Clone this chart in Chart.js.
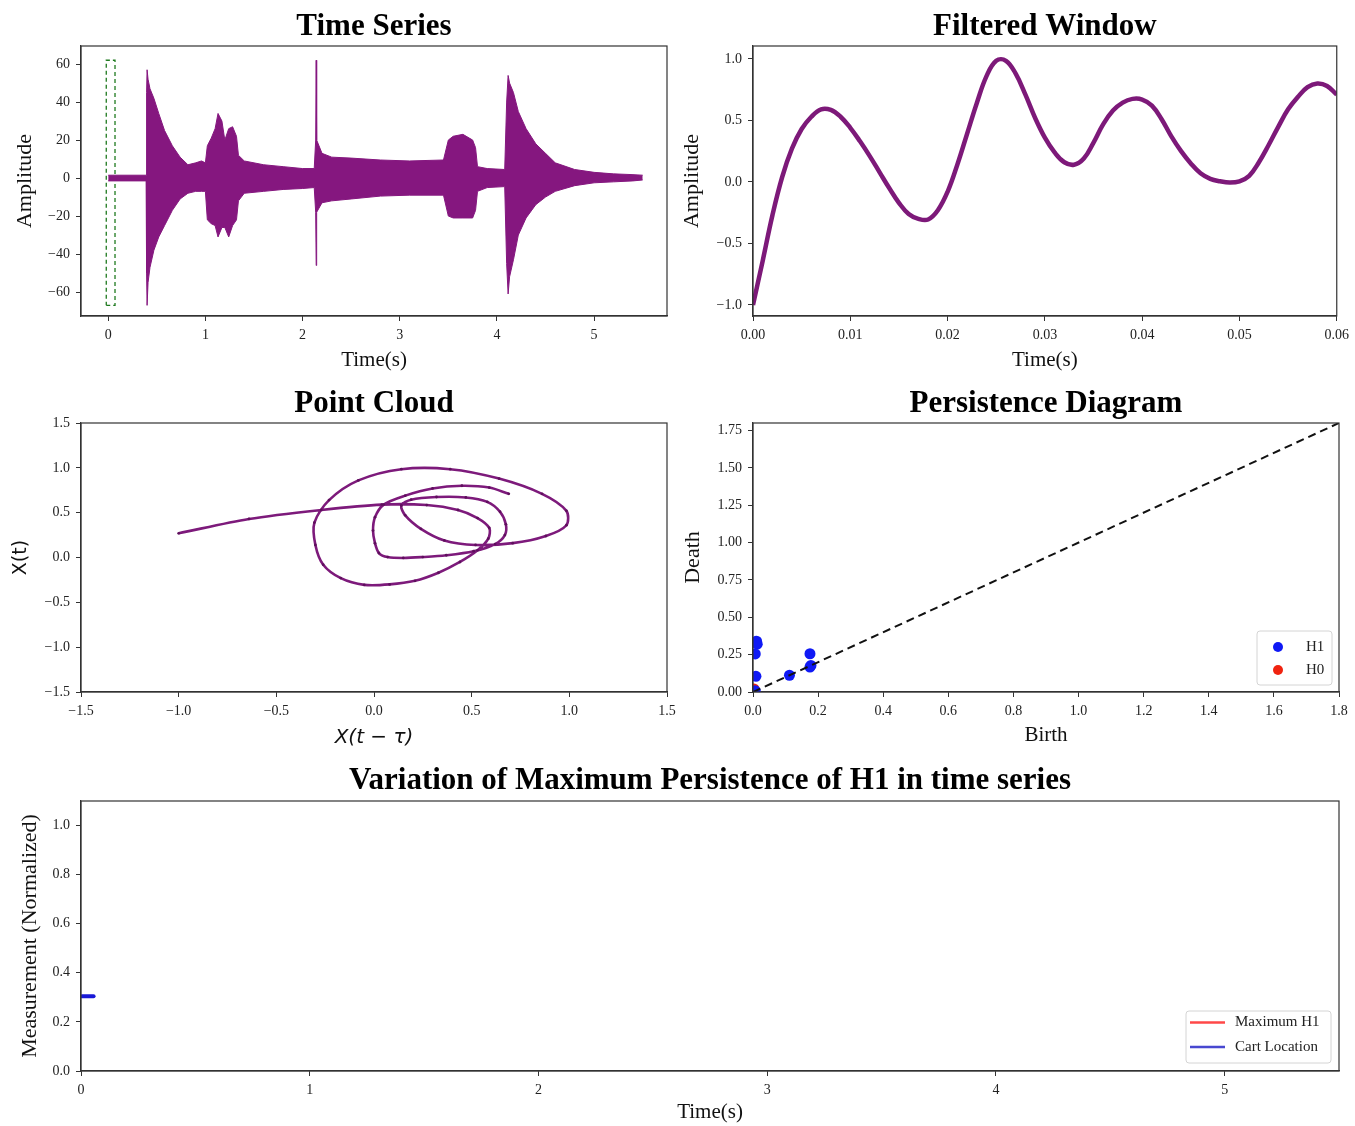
<!DOCTYPE html>
<html>
<head>
<meta charset="utf-8">
<title>Maximum persistence of H1</title>
<script src="https://cdn.jsdelivr.net/npm/chart.js@4.4.1/dist/chart.umd.min.js"></script>
<style>
body { margin: 0; background: #fff; }
#page { position: relative; width: 1355px; height: 1126px; overflow: hidden; background: #fff; }
canvas { position: absolute; }
</style>
</head>
<body>
<div id="page">
	<canvas id="c_series" width="680" height="380" style="left:0px;top:0px"></canvas>
	<canvas id="c_window" width="679" height="380" style="left:676px;top:0px"></canvas>
	<canvas id="c_cloud" width="684" height="382" style="left:0px;top:378px"></canvas>
	<canvas id="c_pd" width="679" height="382" style="left:676px;top:378px"></canvas>
	<canvas id="c_var" width="1355" height="370" style="left:0px;top:756px"></canvas>
</div>
<script>
// time series envelope, seconds / amplitude
var tsTime  = [0.00, 0.39, 0.395, 0.40, 0.41, 0.43, 0.47, 0.52, 0.58, 0.66, 0.74, 0.82, 0.90, 0.96, 1.00,
	1.02, 1.06, 1.10, 1.13, 1.17, 1.20, 1.24, 1.28, 1.32, 1.34, 1.40, 1.60, 1.80, 2.00, 2.12,
	2.135, 2.14, 2.145, 2.20, 2.30, 2.50, 2.80, 3.10, 3.45, 3.50, 3.55, 3.65, 3.75, 3.78, 3.80,
	3.90, 4.08, 4.10, 4.115, 4.13, 4.17, 4.22, 4.30, 4.40, 4.50, 4.60, 4.80, 5.00, 5.20, 5.40, 5.50];
var tsUpper = [1.5, 1.5, 45, 57, 52, 47, 42, 34, 25, 17, 11, 7, 8, 9, 8,
	17, 21, 26, 34, 30, 20, 26, 27, 22, 12, 9, 7, 6, 5, 5,
	20, 62, 20, 13, 11, 10.5, 9.5, 9, 9.5, 20, 22, 23, 20, 16, 6,
	5, 4.5, 40, 54, 50, 45, 35, 26, 18, 13, 8, 4.5, 3, 2.2, 1.8, 1.5];
var tsLower = [-1.5, -1.5, -50, -67, -55, -47, -38, -31, -25, -17, -11, -8, -7, -7, -7,
	-22, -24, -25, -31, -26, -26, -31, -25, -22, -12, -8, -7, -6, -5.5, -5,
	-18, -46, -18, -13, -12, -11, -9.5, -9, -9, -20, -21, -21, -21, -17, -7,
	-5, -4.5, -45, -61, -52, -43, -30, -21, -14, -10, -7, -4, -2.5, -2, -1.5, -1];
// analysed window marked on the time series
var winX = [-0.02, 0.07, 0.07, -0.02, -0.02];
var winY = [-67, -67, 62, 62, -67];

// filtered window, one sample per millisecond
var fwTimeMs = [0, 1, 2, 3, 4, 5, 6, 7, 8, 9, 10, 11, 12, 13, 14, 15, 16, 17, 18, 19, 20,
	21, 22, 23, 24, 25, 26, 27, 28, 29, 30, 31, 32, 33, 34, 35, 36, 37, 38, 39, 40,
	41, 42, 43, 44, 45, 46, 47, 48, 49, 50, 51, 52, 53, 54, 55, 56, 57, 58, 59, 60];
var fwAmp = [-1.00, -0.64, -0.27, 0.04, 0.27, 0.43, 0.53, 0.59, 0.585, 0.53, 0.44,
	0.33, 0.21, 0.08, -0.05, -0.17, -0.26, -0.30, -0.305, -0.23, -0.08,
	0.14, 0.39, 0.64, 0.86, 0.985, 0.985, 0.88, 0.71, 0.52, 0.36,
	0.24, 0.16, 0.14, 0.19, 0.32, 0.47, 0.58, 0.645, 0.675, 0.67,
	0.62, 0.51, 0.37, 0.25, 0.15, 0.07, 0.025, 0.005, -0.005, 0.005,
	0.05, 0.16, 0.30, 0.45, 0.59, 0.69, 0.77, 0.80, 0.78, 0.71];
// delay (in samples) of the embedding X(t - tau) -> X(t)
var cloudLag = 4;

// persistence diagram
var h1Birth = [0.011, 0.013, 0.007, 0.009, 0.112, 0.175, 0.175, 0.178, 0.007];
var h1Death = [0.340, 0.320, 0.255, 0.105, 0.112, 0.256, 0.167, 0.178, 0.008];
var h0Birth = [0.003];
var h0Death = [0.020];
var diagX = [0, 1.8];
var diagY = [0, 1.8];

// bottom panel
var maxH1Time = [0.03];
var maxH1Value = [0.305];
var cartTime = [0.005, 0.055];
var cartValue = [0.305, 0.305];

var SERIF = "'Liberation Serif', 'Times New Roman', serif";
Chart.defaults.font.family = SERIF;
Chart.defaults.color = '#222';

function pairs(xs, ys){
	var out = [];
	for(var i = 0; i < xs.length; i++){
		out.push({x: xs[i], y: ys[i]});
	}
	return out;
}

function fmt(digits){
	return function(v){
		if(Math.abs(v) < 1e-9){
			v = 0;
		}
		return v.toFixed(digits).replace('-', '\u2212');
	};
}

function axisX(min, max, step, digits, title, titleFont, titlePad, height){
	return {
		type: 'linear', position: 'bottom', min: min, max: max,
		ticks: {stepSize: step, includeBounds: false, autoSkip: false, maxRotation: 0, padding: 6,
			color: '#222', font: {size: 14}, callback: fmt(digits)},
		grid: {drawOnChartArea: false, drawTicks: true, tickLength: 5, color: '#333'},
		border: {display: true, color: '#333', width: 1.2},
		title: {display: true, text: title, color: '#111', font: titleFont, padding: {top: 0, bottom: titlePad}},
		afterFit: function(s){ s.height = height; }
	};
}

function axisY(min, max, step, digits, title, titleFont, titlePad, width){
	return {
		type: 'linear', position: 'left', min: min, max: max,
		ticks: {stepSize: step, includeBounds: false, autoSkip: false, padding: 6,
			color: '#222', font: {size: 14}, callback: fmt(digits)},
		grid: {drawOnChartArea: false, drawTicks: true, tickLength: 5, color: '#333'},
		border: {display: true, color: '#333', width: 1.2},
		title: {display: true, text: title, color: '#111', font: titleFont, padding: {top: titlePad, bottom: 0}},
		afterFit: function(s){ s.width = width; }
	};
}

// title centred over the plot area only
function titleOpts(text, padTop, padBottom){
	return {display: true, text: text, color: '#000', fullSize: false,
		font: {size: 31, weight: 'bold', family: SERIF, lineHeight: 1.2},
		padding: {top: padTop, bottom: padBottom}};
}

// box round the plot area, like matplotlib spines
var frame = {
	id: 'frame',
	afterDraw: function(chart){
		var a = chart.chartArea;
		var ctx = chart.ctx;
		ctx.save();
		ctx.strokeStyle = '#333';
		ctx.lineWidth = 1.2;
		ctx.strokeRect(a.left, a.top, a.right - a.left, a.bottom - a.top);
		ctx.restore();
	}
};

// legend box in the lower right corner of the plot area
var boxLegend = {
	id: 'boxLegend',
	afterDraw: function(chart, args, opts){
		if(!opts || !opts.rows){
			return;
		}
		var a = chart.chartArea;
		var ctx = chart.ctx;
		var x0 = a.right - opts.inset - opts.width;
		var y0 = a.bottom - opts.inset - opts.height;
		ctx.save();
		ctx.beginPath();
		ctx.roundRect(x0, y0, opts.width, opts.height, 3);
		ctx.fillStyle = 'rgba(255,255,255,0.85)';
		ctx.fill();
		ctx.strokeStyle = '#d4d4d4';
		ctx.lineWidth = 1;
		ctx.stroke();
		ctx.font = '15px ' + SERIF;
		ctx.textBaseline = 'middle';
		for(var k = 0; k < opts.rows.length; k++){
			var ds = chart.data.datasets[opts.rows[k]];
			var y = y0 + opts.rowY[k];
			if(opts.kind == 'dot'){
				ctx.beginPath();
				ctx.arc(x0 + opts.markX, y, 5, 0, Math.PI * 2);
				ctx.fillStyle = ds.backgroundColor;
				ctx.fill();
			}
			else{
				ctx.beginPath();
				ctx.moveTo(x0 + 4, y);
				ctx.lineTo(x0 + 39, y);
				ctx.strokeStyle = opts.colors[k];
				ctx.lineWidth = 2.5;
				ctx.stroke();
			}
			ctx.fillStyle = '#222';
			ctx.fillText(ds.label, x0 + opts.textX, y);
		}
		ctx.restore();
	}
};

var common = {responsive: false, animation: false, devicePixelRatio: 1, events: []};

function baseOptions(title, scales, extra){
	var o = Object.assign({}, common);
	o.layout = {padding: {left: 0, top: 0, right: extra.padRight, bottom: 0}};
	o.scales = scales;
	o.plugins = {legend: {display: false}, tooltip: {enabled: false}, title: title};
	if(extra.legend){
		o.plugins.boxLegend = extra.legend;
	}
	return o;
}

var PURPLE = '#85177f';
var AXIS22 = {size: 22, family: SERIF};
var AXIS21 = {size: 21, family: SERIF};

// ---- Time Series
new Chart(document.getElementById('c_series'), {
	type: 'line',
	data: {
		datasets: [
			{label: 'upper', data: pairs(tsTime, tsUpper), borderColor: PURPLE, backgroundColor: PURPLE,
				borderWidth: 1, pointRadius: 0, tension: 0, fill: '+1'},
			{label: 'lower', data: pairs(tsTime, tsLower), borderColor: PURPLE, backgroundColor: PURPLE,
				borderWidth: 1, pointRadius: 0, tension: 0, fill: false},
			{label: 'window', data: pairs(winX, winY), borderColor: '#1f7a1f', borderDash: [4, 3],
				borderWidth: 1.3, pointRadius: 0, tension: 0, fill: false}
		]
	},
	options: baseOptions(titleOpts('Time Series', 8.4, 0.4), {
		x: axisX(-0.28, 5.75, 1, 0, 'Time(s)', AXIS21, 7.4, 64),
		y: axisY(-72.6, 69.5, 20, 0, 'Amplitude', AXIS22, 11.8, 81)
	}, {padRight: 13}),
	plugins: [frame]
});

// ---- Filtered Window
var fwPoints = [];
for(var i = 0; i < fwTimeMs.length; i++){
	fwPoints.push({x: fwTimeMs[i] / 1000, y: fwAmp[i]});
}
new Chart(document.getElementById('c_window'), {
	type: 'line',
	data: {
		datasets: [
			{label: 'filtered', data: fwPoints, borderColor: '#7d1979', borderWidth: 4.5,
				pointRadius: 0, tension: 0.4, fill: false}
		]
	},
	options: baseOptions(titleOpts('Filtered Window', 8.4, 0.4), {
		x: axisX(0, 0.06, 0.01, 2, 'Time(s)', AXIS21, 7.4, 64),
		y: axisY(-1.09, 1.105, 0.5, 1, 'Amplitude', AXIS22, 2.8, 77)
	}, {padRight: 16}),
	plugins: [frame]
});

// ---- Point Cloud (delay embedding of the filtered window)
var cloudPoints = [];
for(var j = cloudLag; j < fwAmp.length; j++){
	cloudPoints.push({x: fwAmp[j - cloudLag], y: fwAmp[j]});
}
new Chart(document.getElementById('c_cloud'), {
	type: 'line',
	data: {
		datasets: [
			{label: 'cloud', data: cloudPoints, borderColor: '#7d1a7b', backgroundColor: '#5e0f5c',
				borderWidth: 2.6, pointRadius: 1.4, pointBorderWidth: 0, tension: 0.3, fill: false}
		]
	},
	options: baseOptions(titleOpts('Point Cloud', 7.4, 0.4), {
		x: axisX(-1.5, 1.5, 0.5, 1, 'X(t \u2212 \u03C4)', {size: 20, family: 'DejaVu Sans', style: 'italic'}, 10, 68),
		y: axisY(-1.5, 1.5, 0.5, 1, 'X(t)', {size: 19, family: 'DejaVu Sans'}, 9.6, 81)
	}, {padRight: 17}),
	plugins: [frame]
});

// ---- Persistence Diagram
new Chart(document.getElementById('c_pd'), {
	type: 'scatter',
	data: {
		datasets: [
			{label: 'diag', data: pairs(diagX, diagY), showLine: true, borderColor: '#111', borderWidth: 2,
				borderDash: [8, 5], pointRadius: 0, fill: false},
			{label: 'H1', data: pairs(h1Birth, h1Death), backgroundColor: 'rgb(15,25,245)', borderWidth: 0,
				pointRadius: 5.5},
			{label: 'H0', data: pairs(h0Birth, h0Death), backgroundColor: 'rgb(240,35,15)', borderWidth: 0,
				pointRadius: 5.5}
		]
	},
	options: baseOptions(titleOpts('Persistence Diagram', 7.4, 0.4), {
		x: axisX(0, 1.8, 0.2, 1, 'Birth', AXIS21, 12.4, 68),
		y: axisY(0, 1.8, 0.25, 2, 'Death', AXIS22, 3.8, 77)
	}, {padRight: 16, legend: {rows: [1, 2], kind: 'dot', width: 75, height: 54, inset: 7,
		rowY: [16, 39], markX: 21, textX: 49}}),
	plugins: [frame, boxLegend]
});

// ---- Variation of maximum persistence
new Chart(document.getElementById('c_var'), {
	type: 'line',
	data: {
		datasets: [
			{label: 'Maximum H1', data: pairs(maxH1Time, maxH1Value), borderColor: 'rgba(255,0,0,0.7)',
				borderWidth: 2.5, pointRadius: 0, fill: false},
			{label: 'Cart Location', data: pairs(cartTime, cartValue), borderColor: 'rgb(25,25,215)',
				borderWidth: 4, borderCapStyle: 'round', pointRadius: 0, fill: false}
		]
	},
	options: baseOptions(titleOpts('Variation of Maximum Persistence of H1 in time series', 6.4, 1.4), {
		x: axisX(0, 5.5, 1, 0, 'Time(s)', AXIS21, 1.4, 55),
		y: axisY(0, 1.1, 0.2, 1, 'Measurement (Normalized)', AXIS22, 16.8, 81)
	}, {padRight: 16, legend: {rows: [0, 1], kind: 'line', width: 145, height: 52, inset: 8,
		rowY: [11.5, 36], textX: 49, colors: ['rgba(255,40,40,0.85)', 'rgba(40,40,200,0.85)']}}),
	plugins: [frame, boxLegend]
});
</script>
</body>
</html>
